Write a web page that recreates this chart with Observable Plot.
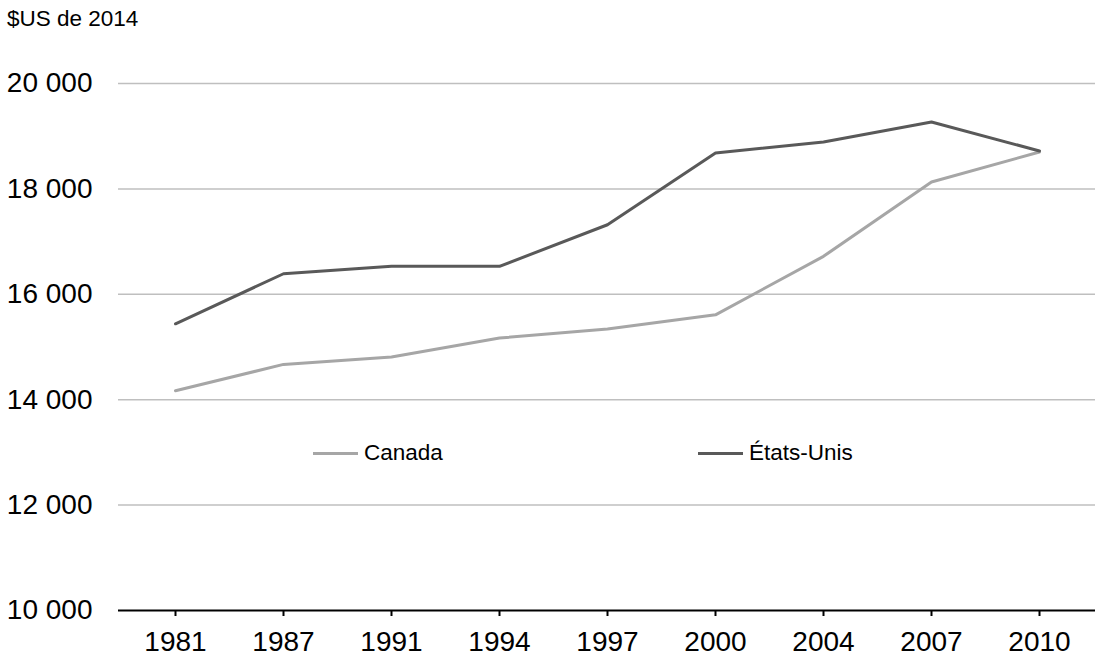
<!DOCTYPE html>
<html>
<head>
<meta charset="utf-8">
<script src="https://cdn.jsdelivr.net/npm/d3@7"></script>
<script src="https://cdn.jsdelivr.net/npm/@observablehq/plot@0.6"></script>
<style>
  html, body { margin: 0; padding: 0; background: #fff; }
  body { width: 1100px; height: 666px; font-family: "Liberation Sans", Arial, sans-serif; position: relative; overflow: hidden; }
  #title { height: 40px; font-size: 22.5px; line-height: 38px; padding-left: 7px; color: #000; }
  .leg { position: absolute; display: flex; align-items: center; height: 24px; font-size: 22.5px; color: #000; }
  .leg span.sw { display: inline-block; width: 45px; height: 3px; margin-right: 6px; }
</style>
</head>
<body>
<div id="title">$US de 2014</div>
<div id="chart"></div>
<div class="leg" style="left:313px; top:441px;"><span class="sw" style="background:#a6a6a6"></span>Canada</div>
<div class="leg" style="left:698px; top:441px;"><span class="sw" style="background:#595959"></span>États-Unis</div>
<script>
const years = ["1981", "1987", "1991", "1994", "1997", "2000", "2004", "2007", "2010"];
const canada = [14170, 14670, 14810, 15170, 15340, 15610, 16720, 18130, 18700];
const usa = [15440, 16390, 16530, 16530, 17320, 18680, 18890, 19270, 18720];
const yTicks = [10000, 12000, 14000, 16000, 18000, 20000];
const seriesNames = ["Canada", "États-Unis"];
const seriesColors = ["#a6a6a6", "#595959"];

const data = [];
years.forEach((y, i) => {
  data.push({year: y, value: canada[i], series: seriesNames[0]});
  data.push({year: y, value: usa[i], series: seriesNames[1]});
});

const fmt = d => d3.format(",")(d).replace(/,/g, " ");

const chart = Plot.plot({
  width: 1100,
  height: 626,
  marginTop: 43,
  marginBottom: 56,
  marginLeft: 118,
  marginRight: 5,
  style: {fontFamily: "'Liberation Sans', Arial, sans-serif", fontSize: "28px", color: "#000", background: "#fff"},
  x: {type: "point", domain: years, padding: 0.5, label: null},
  y: {domain: [10000, 20000], ticks: yTicks, label: null, tickFormat: fmt},
  color: {domain: seriesNames, range: seriesColors},
  marks: [
    Plot.gridY(yTicks.filter(t => t > 10000), {stroke: "#bfbfbf", strokeOpacity: 1, strokeWidth: 1.5}),
    Plot.axisY(yTicks, {tickSize: 0, tickPadding: 26, tickFormat: fmt, fontSize: 28, label: null}),
    Plot.axisX({tickSize: 6, tickPadding: 15, fontSize: 28, label: null, strokeWidth: 2}),
    Plot.ruleY([10000], {stroke: "#000", strokeWidth: 2}),
    Plot.line(data, {x: "year", y: "value", z: "series", stroke: "series", strokeWidth: 3})
  ]
});
document.getElementById("chart").appendChild(chart);
</script>
</body>
</html>
